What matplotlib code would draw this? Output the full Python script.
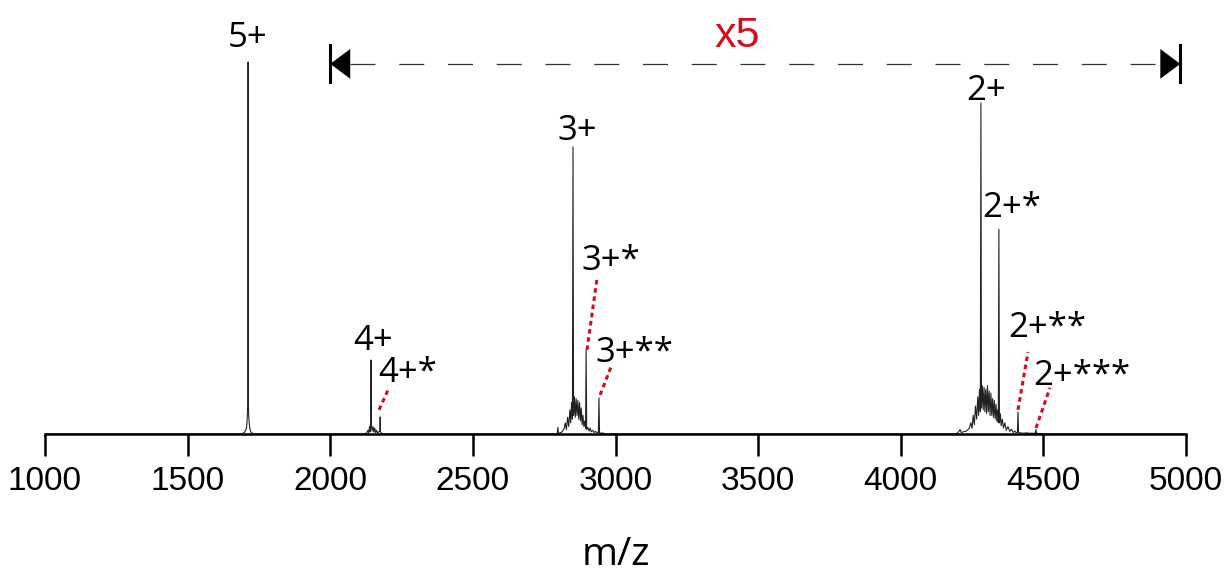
import matplotlib
matplotlib.use('Agg')
import matplotlib.pyplot as plt

# spectrum, intensity as % of the 5+ peak (region 2000-5000 already shown x5)
mz = [1000, 1690, 1700, 1706, 1708, 1710, 1711, 1712, 1713, 1714, 1716, 1718, 1722, 1730,
      2120, 2128, 2132, 2135, 2138, 2140, 2142, 2143, 2144, 2147, 2150, 2153, 2156, 2159, 2162,
      2166, 2170, 2174, 2175, 2176, 2180, 2190,
      2790, 2796, 2798, 2800, 2810, 2815, 2820, 2824, 2828, 2832, 2836, 2840, 2843, 2846, 2849,
      2851, 2853, 2856, 2859, 2862, 2865, 2868, 2871, 2874, 2877, 2880, 2883, 2886, 2889, 2892,
      2895, 2897, 2899, 2903, 2907, 2911, 2915, 2920, 2925, 2930, 2936, 2940, 2942, 2944, 2950,
      2956, 2960,
      4190, 4200, 4208, 4212, 4220, 4230, 4240, 4246, 4250, 4254, 4258, 4262, 4266, 4270, 4273,
      4276, 4279, 4281, 4283, 4286, 4289, 4292, 4295, 4298, 4301, 4304, 4307, 4310, 4313, 4316,
      4319, 4322, 4325, 4328, 4331, 4334, 4337, 4340, 4342, 4344, 4346, 4349, 4352, 4356, 4360,
      4365, 4370, 4376, 4382, 4388, 4394, 4400, 4405, 4409, 4411, 4413, 4420, 4430, 4440, 4450,
      4460, 4472, 4474, 4476, 4490, 4500, 5000]
intensity = [0, 0, 0.5, 1.5, 3, 6, 8, 100, 8, 5, 3, 1.5, 0.5, 0,
             0, 0.3, 1.0, 0.3, 2.0, 0.6, 2.4, 19.9, 2.2, 0.8, 2.0, 0.5, 1.6, 0.4, 1.0,
             0.2, 0.6, 0.8, 4.6, 0.6, 0.2, 0,
             0, 0.2, 1.8, 0.2, 0.4, 0.8, 1.5, 3.0, 1.2, 4.5, 2.0, 6.5, 3.0, 8.5, 4.0,
             77.2, 5.0, 10.0, 4.5, 9.5, 5.0, 9.0, 4.0, 8.5, 3.5, 7.0, 2.5, 5.0, 2.0, 3.5,
             1.5, 22.6, 1.2, 1.8, 0.8, 1.6, 0.6, 1.0, 0.4, 0.7, 0.3, 0.4, 9.7, 0.3, 0.2,
             0.3, 0,
             0, 0.3, 1.2, 0.4, 0.6, 0.8, 1.5, 3.0, 1.5, 5.0, 2.5, 7.5, 4.0, 10.0, 5.0,
             12.0, 6.0, 89.0, 7.0, 13.0, 6.5, 12.5, 6.0, 12.0, 5.5, 13.0, 6.0, 11.5, 5.0, 11.0,
             5.0, 9.5, 4.5, 9.0, 4.0, 8.0, 3.5, 6.5, 3.0, 55.0, 3.0, 5.5, 2.2, 4.0, 1.6,
             3.0, 1.0, 2.0, 0.7, 1.3, 0.4, 0.8, 0.3, 0.5, 5.9, 0.4, 0.3, 0.2, 0.3, 0.2,
             0.2, 0.2, 1.2, 0.2, 0.1, 0, 0]

# peak labels: text, x, baseline y
labels = ['5+', '4+', '4+*', '3+', '3+*', '3+**', '2+', '2+*', '2+**', '2+***']
label_x = [1712, 2150, 2272, 2865, 2982, 3066, 4299, 4388, 4514, 4635]
label_y = [104.0, 22.6, 14.0, 79.0, 44.1, 19.4, 89.8, 58.3, 26.1, 13.2]

# red dotted leader lines (peak top -> label)
leaders = [((2171, 6.5), (2206, 12.4)),
           ((2900, 22.6), (2935, 41.7)),
           ((2946, 10.5), (2984, 18.0)),
           ((4411, 6.5), (4446, 22.0)),
           ((4474, 1.6), (4523, 12.4))]

zoom_range = (2000, 4980)
zoom_text = 'x5'
xticks = [1000, 1500, 2000, 2500, 3000, 3500, 4000, 4500, 5000]

fig = plt.figure(figsize=(12.31, 5.77), dpi=100)
ax = fig.add_axes([45 / 1231, 143 / 577, 1141 / 1231, 434 / 577])

ax.plot(mz, intensity, color='#222222', lw=0.8)

lab_font = ['Open Sans', 'DejaVu Sans']
for t, x, y in zip(labels, label_x, label_y):
    ax.text(x, y, t, ha='center', va='baseline', fontsize=25, family=lab_font)

for (x0, y0), (x1, y1) in leaders:
    ax.plot([x0, x1], [y0, y1], color='#d0101c', lw=2.2, ls=(0, (1.5, 1.2)),
            solid_capstyle='butt')

# x5 span arrow
ya = 99.5
ax.plot([zoom_range[0] + 70, zoom_range[1] - 70], [ya, ya], color='#333333', lw=0.9,
        ls=(0, (20, 19)))
ax.fill([zoom_range[0], zoom_range[0] + 70, zoom_range[0] + 70],
        [ya, ya + 4.0, ya - 4.0], color='black', lw=0)
ax.fill([zoom_range[1], zoom_range[1] - 70, zoom_range[1] - 70],
        [ya, ya + 4.0, ya - 4.0], color='black', lw=0)
for xb in zoom_range:
    ax.plot([xb, xb], [ya - 5.0, ya + 5.0], color='black', lw=2.2)
ax.text(3426, 104.0, zoom_text, color='#d0101c', ha='center', va='baseline', fontsize=31,
        family=['Liberation Sans'])

ax.set_xlim(1000, 5000)
ax.set_ylim(0, 116.67)
for s in ['top', 'left', 'right']:
    ax.spines[s].set_visible(False)
ax.spines['bottom'].set_linewidth(1.8)
ax.set_yticks([])
ax.set_xticks(xticks)
ax.set_xticklabels([str(v) for v in xticks], family=['Liberation Sans'], fontsize=24)
ax.tick_params(axis='x', direction='out', length=16, width=1.8, pad=7)
ax.set_xlabel('m/z', fontsize=28, family=lab_font, labelpad=28)

fig.savefig('out.png', dpi=100, facecolor='white')
